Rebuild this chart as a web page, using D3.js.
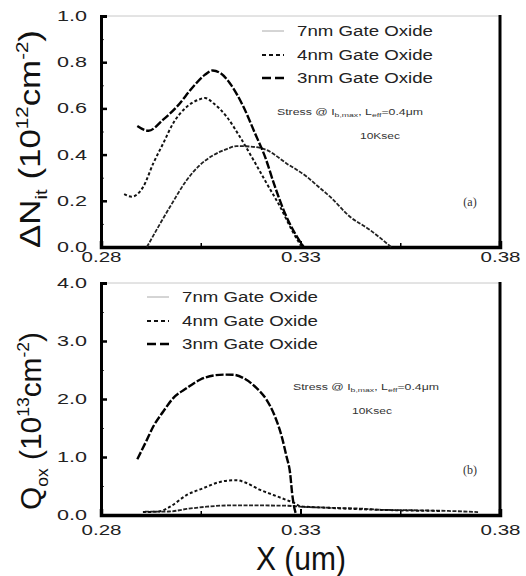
<!DOCTYPE html>
<html>
<head>
<meta charset="utf-8">
<script src="https://cdn.jsdelivr.net/npm/d3@7"></script>
<style>
  html, body { margin: 0; padding: 0; background: #fff; }
  svg { display: block; font-family: "Liberation Sans", Arial, sans-serif; }
</style>
</head>
<body>
<svg id="chart" width="526" height="576"></svg>
<script>
// ---- data -------------------------------------------------------------
const seriesNames = ["7nm Gate Oxide", "4nm Gate Oxide", "3nm Gate Oxide"];
const xTickValues = [0.28, 0.33, 0.38];
const xTickLabels = ["0.28", "0.33", "0.38"];
const dNitTickValues = [0.0, 0.2, 0.4, 0.6, 0.8, 1.0];
const dNitTickLabels = ["0.0", "0.2", "0.4", "0.6", "0.8", "1.0"];
const qoxTickValues = [0.0, 1.0, 2.0, 3.0, 4.0];
const qoxTickLabels = ["0.0", "1.0", "2.0", "3.0", "4.0"];

// (a) interface trap density, 10^12 cm^-2, vs position X (um)
const dNit7nm = [[0.2915,0],[0.2973,0.174],[0.3015,0.290],[0.3048,0.355],[0.3082,0.398],
  [0.3115,0.424],[0.3140,0.437],[0.3173,0.435],[0.3215,0.420],[0.3265,0.362],[0.3316,0.304],
  [0.3345,0.261],[0.3374,0.218],[0.3424,0.131],[0.3474,0.074],[0.3527,0.0]];
const dNit4nm = [[0.2858,0.229],[0.2877,0.218],[0.2906,0.261],[0.2931,0.362],[0.2956,0.449],
  [0.2981,0.536],[0.3015,0.607],[0.3045,0.638],[0.3061,0.645],[0.3082,0.622],[0.3115,0.564],
  [0.3148,0.477],[0.3182,0.377],[0.3215,0.276],[0.3249,0.174],[0.3278,0.074],[0.3303,0.0]];
const dNit3nm = [[0.2891,0.524],[0.2919,0.503],[0.2955,0.550],[0.2990,0.607],[0.3031,0.694],
  [0.3060,0.745],[0.3080,0.764],[0.3100,0.752],[0.3123,0.709],[0.3157,0.607],[0.3186,0.492],
  [0.3211,0.391],[0.3236,0.261],[0.3261,0.146],[0.3291,0.045],[0.3308,0.0]];

// (b) oxide trapped charge, 10^13 cm^-2, vs position X (um)
const qox7nm = [[0.2910,0.057],[0.2970,0.060],[0.3015,0.104],[0.3065,0.143],[0.3123,0.165],
  [0.3180,0.165],[0.3265,0.160],[0.3299,0.143],[0.3350,0.130],[0.3400,0.120],[0.3450,0.110],
  [0.3500,0.090],[0.3600,0.080],[0.3670,0.070],[0.3745,0.050]];
const qox4nm = [[0.2905,0.050],[0.2945,0.060],[0.2973,0.143],[0.3015,0.345],[0.3056,0.461],
  [0.3098,0.570],[0.3120,0.595],[0.3140,0.600],[0.3160,0.565],[0.3199,0.432],[0.3232,0.345],
  [0.3265,0.259],[0.3286,0.202],[0.3300,0.150],[0.3350,0.130],[0.3450,0.100],[0.3550,0.080],
  [0.3650,0.070]];
const qox3nm = [[0.2891,0.962],[0.2915,1.295],[0.2931,1.525],[0.2956,1.784],[0.2981,2.015],
  [0.3015,2.188],[0.3048,2.332],[0.3082,2.406],[0.3110,2.420],[0.3132,2.418],[0.3157,2.361],
  [0.3190,2.188],[0.3215,1.986],[0.3236,1.698],[0.3253,1.352],[0.3265,1.007],[0.3274,0.720],
  [0.3279,0.375],[0.3284,0.143],[0.3288,0.030]];

// ---- styles -----------------------------------------------------------
const lineStyles = [
  { color: "#222", width: 1.8, dash: "4,1.5", legendColor: "#aaa", legendWidth: 1, legendDash: null },
  { color: "#111", width: 2.0, dash: "3,2.2", legendColor: "#111", legendWidth: 2, legendDash: "4,3" },
  { color: "#000", width: 2.4, dash: "8,2",   legendColor: "#000", legendWidth: 2.6, legendDash: "9,4" }
];

const svg = d3.select("#chart");
const left = 101, right = 500;
const x = d3.scaleLinear().domain([0.28, 0.38]).range([left, right]);

function drawPanel(cfg) {
  const g = svg.append("g");
  const y = d3.scaleLinear().domain(cfg.yDomain).range([cfg.bottom, cfg.top]);

  // frame: light top edge, heavy other edges
  g.append("line").attr("x1", left).attr("x2", right).attr("y1", cfg.top).attr("y2", cfg.top)
    .attr("stroke", "#c8c8c8").attr("stroke-width", 1);
  g.append("line").attr("x1", right).attr("x2", right).attr("y1", cfg.top - 1).attr("y2", cfg.bottom + 1.5)
    .attr("stroke", "#000").attr("stroke-width", 3);

  // y axis with inward ticks
  const yAxis = d3.axisLeft(y).tickValues(cfg.yMinor).tickSize(-3).tickFormat("");
  const yAx = g.append("g").attr("transform", `translate(${left},0)`).call(yAxis);
  yAx.selectAll(".tick line").attr("stroke-width", 1).attr("stroke", "#444");
  const yMajor = d3.axisLeft(y).tickValues(cfg.yTicks).tickSize(-6).tickPadding(14)
    .tickFormat((d, i) => cfg.yLabels[i]);
  const yMa = g.append("g").attr("transform", `translate(${left},0)`).call(yMajor);
  yMa.select(".domain").attr("stroke-width", 3);
  yMa.selectAll(".tick line").attr("stroke-width", 2.5);
  yMa.selectAll(".tick text").attr("font-size", 14).attr("fill", "#222")
    .attr("textLength", 30).attr("lengthAdjust", "spacingAndGlyphs");
  yAx.select(".domain").remove();

  // x axis
  const xAxisMinor = d3.axisBottom(x).tickValues([0.305, 0.355]).tickSize(-4).tickFormat("");
  const xAm = g.append("g").attr("transform", `translate(0,${cfg.bottom})`).call(xAxisMinor);
  xAm.select(".domain").remove();
  xAm.selectAll(".tick line").attr("stroke-width", 1.5);
  const xAxis = d3.axisBottom(x).tickValues(xTickValues).tickSize(-6).tickPadding(cfg.xPad)
    .tickFormat((d, i) => xTickLabels[i]);
  const xA = g.append("g").attr("transform", `translate(0,${cfg.bottom})`).call(xAxis);
  xA.select(".domain").attr("stroke-width", 3.5);
  xA.selectAll(".tick line").attr("stroke-width", 2);
  xA.selectAll(".tick text").attr("font-size", 14).attr("fill", "#222")
    .attr("textLength", 40).attr("lengthAdjust", "spacingAndGlyphs");

  // curves
  const line = d3.line().x(d => x(d[0])).y(d => y(d[1])).curve(d3.curveMonotoneX);
  cfg.series.forEach((s, i) => {
    const st = lineStyles[i];
    g.append("path").datum(s).attr("d", line).attr("fill", "none")
      .attr("stroke", st.color).attr("stroke-width", st.width)
      .attr("stroke-dasharray", st.dash).attr("stroke-linejoin", "round");
  });

  // legend
  seriesNames.forEach((name, i) => {
    const st = lineStyles[i];
    const ly = cfg.legendY[i];
    g.append("line").attr("x1", cfg.legendX).attr("x2", cfg.legendX + 22)
      .attr("y1", ly).attr("y2", ly)
      .attr("stroke", st.legendColor).attr("stroke-width", st.legendWidth)
      .attr("stroke-dasharray", st.legendDash);
    g.append("text").attr("x", cfg.legendX + 35).attr("y", ly + 5)
      .attr("font-size", 14).attr("fill", "#222")
      .attr("textLength", 136).attr("lengthAdjust", "spacingAndGlyphs")
      .text(name);
  });

  // stress condition note
  const n1 = g.append("text").attr("x", cfg.noteX).attr("y", cfg.noteY)
    .attr("font-size", 8.5).attr("fill", "#333")
    .attr("textLength", 146).attr("lengthAdjust", "spacingAndGlyphs");
  n1.append("tspan").text("Stress @ I");
  n1.append("tspan").attr("font-size", 6).attr("dy", 2).text("b,max");
  n1.append("tspan").attr("dy", -2).text(", L");
  n1.append("tspan").attr("font-size", 6).attr("dy", 2).text("eff");
  n1.append("tspan").attr("dy", -2).text("=0.4μm");
  g.append("text").attr("x", cfg.note2X).attr("y", cfg.noteY + 24)
    .attr("font-size", 8.5).attr("fill", "#333")
    .attr("textLength", 40).attr("lengthAdjust", "spacingAndGlyphs")
    .text("10Ksec");

  // panel tag
  g.append("text").attr("x", 470).attr("y", cfg.tagY).attr("text-anchor", "middle")
    .attr("font-family", "Liberation Serif, Times New Roman, serif")
    .attr("font-size", 12).attr("fill", "#333").text(cfg.tag);

  // y axis title
  const t = g.append("text")
    .attr("transform", `translate(${cfg.titleX},${cfg.titleCY}) rotate(-90)`)
    .attr("text-anchor", "middle").attr("font-size", 29).attr("fill", "#111")
    .attr("textLength", cfg.titleLen).attr("lengthAdjust", "spacingAndGlyphs");
  t.append("tspan").text(cfg.title[0]);
  t.append("tspan").attr("font-size", 17).attr("dy", 7).text(cfg.title[1]);
  t.append("tspan").attr("dy", -7).text(" (10");
  t.append("tspan").attr("font-size", 17).attr("dy", -12).text(cfg.title[2]);
  t.append("tspan").attr("dy", 12).text("cm");
  t.append("tspan").attr("font-size", 17).attr("dy", -12).text("-2");
  t.append("tspan").attr("dy", 12).text(")");
}

drawPanel({
  top: 16, bottom: 247, yDomain: [0, 1.0],
  yTicks: dNitTickValues, yLabels: dNitTickLabels,
  yMinor: d3.range(0, 1.01, 0.1), xPad: 5,
  series: [dNit7nm, dNit4nm, dNit3nm],
  legendX: 262, legendY: [31, 55, 78],
  noteX: 277, note2X: 360, noteY: 115,
  tag: "(a)", tagY: 206,
  title: ["ΔN", "it", "12"], titleX: 40, titleCY: 139, titleLen: 218
});

drawPanel({
  top: 283, bottom: 515, yDomain: [0, 4.0],
  yTicks: qoxTickValues, yLabels: qoxTickLabels,
  yMinor: d3.range(0, 4.01, 0.5), xPad: 10,
  series: [qox7nm, qox4nm, qox3nm],
  legendX: 147, legendY: [297, 321, 344],
  noteX: 293, note2X: 352, noteY: 390,
  tag: "(b)", tagY: 474,
  title: ["Q", "ox", "13"], titleX: 41, titleCY: 421, titleLen: 178
});

// shared x axis title
svg.append("text").attr("x", 301).attr("y", 570).attr("text-anchor", "middle")
  .attr("font-size", 33).attr("fill", "#111")
  .attr("textLength", 90).attr("lengthAdjust", "spacingAndGlyphs")
  .text("X (um)");
</script>
</body>
</html>
